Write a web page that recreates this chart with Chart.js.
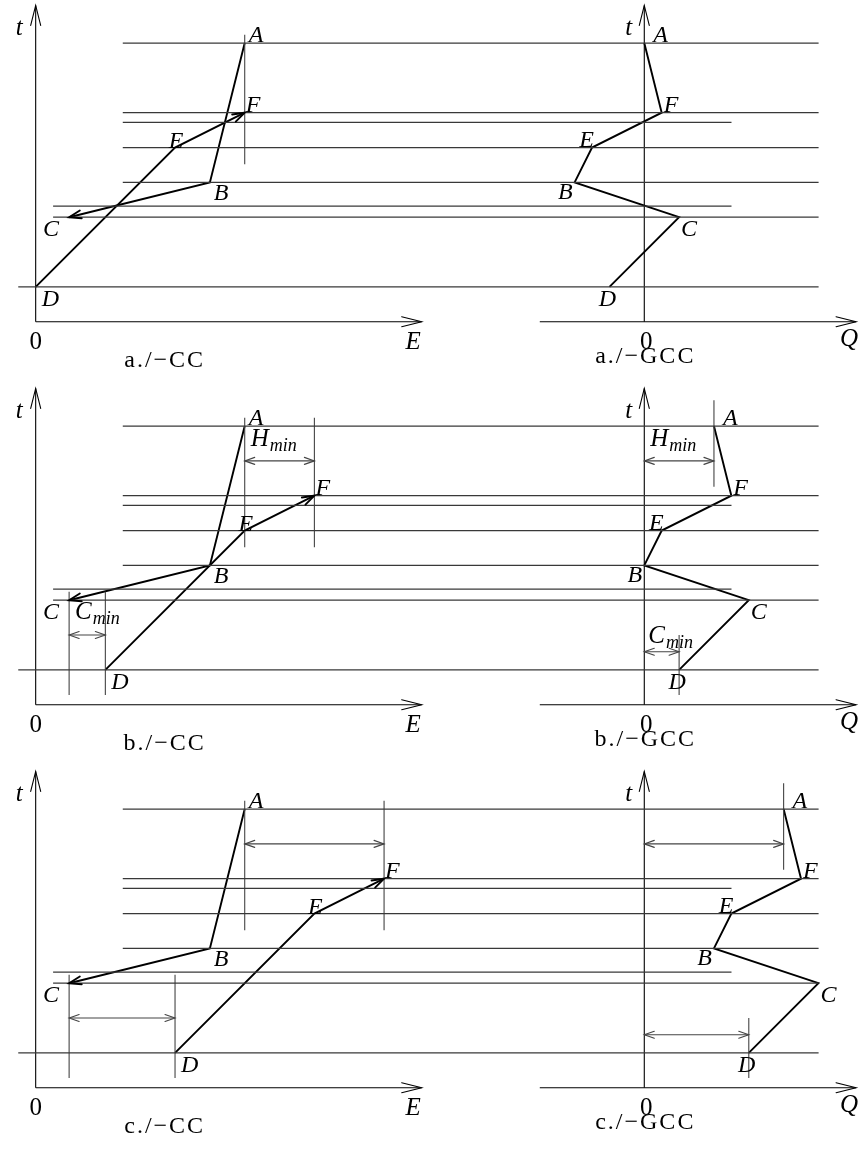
<!DOCTYPE html>
<html>
<head>
<meta charset="utf-8">
<script src="https://cdn.jsdelivr.net/npm/chart.js@4.4.1/dist/chart.umd.min.js"></script>
<style>
  html, body { margin: 0; padding: 0; background: #fff; }
  .row { position: absolute; left: 0; width: 859px; height: 383px; }
  canvas { display: block; }
</style>
</head>
<body>
<div class="row" style="top:0"><canvas id="row-a" width="859" height="383"></canvas></div>
<div class="row" style="top:383px"><canvas id="row-b" width="859" height="383"></canvas></div>
<div class="row" style="top:766px"><canvas id="row-c" width="859" height="383"></canvas></div>
<script>
// shifted temperature intervals, shared by the three cases
const tLevels = [200, 150, 143, 125, 100, 83, 75, 25];
const levelStartE = [62.5, 62.5, 62.5, 62.5, 62.5, 12.5, 12.5, -12.5];
const levelEndQ = [125, 125, 62.5, 125, 125, 62.5, 125, 125];

// hot composite A -> B -> C (same in every case)
const hotNames = ['A', 'B', 'C'];
const hotT = [200, 100, 75];
const hotE = [150, 125, 24];

// cold composite D -> E -> F, slid right case by case
const coldNames = ['D', 'E', 'F'];
const coldT = [25, 125, 150];
const coldE_a = [0, 100, 150];
const coldE_b = [50, 150, 200];
const coldE_c = [100, 200, 250];

// grand composite curve
const gccNames = ['A', 'F', 'E', 'B', 'C', 'D'];
const gccT = [200, 150, 125, 100, 75, 25];
const gccQ_a = [0, 12.5, -37.5, -50, 25, -25];
const gccQ_b = [50, 62.5, 12.5, 0, 75, 25];
const gccQ_c = [100, 112.5, 62.5, 50, 125, 75];

// guide lines for the Hmin / Cmin spans
const upperGuideE_a = [150];
const lowerGuideE_a = [];
const upperGuideE_b = [150, 200];
const lowerGuideE_b = [24, 50];
const upperGuideE_c = [150, 250];
const lowerGuideE_c = [24, 100];
const gccGuideQ_a = [];
const gccGuideQ_b = [50, 25];
const gccGuideQ_c = [100, 75];
const guideUpperT = [113, 206];
const guideLowerT = [7, 81];
const gccGuideUpperT = [156.5, 218.5];
const gccGuideLowerT = [7, 50];
const spanT = [175, 50];
const gccSpanT = [175, 38];

// axes
const tAxisTop = 227;
const eAxisEnd = 277;
const qAxis = [-75, 152];

const captionsCC = ['a./\u2212CC', 'b./\u2212CC', 'c./\u2212CC'];
const captionsGCC = ['a./\u2212GCC', 'b./\u2212GCC', 'c./\u2212GCC'];

// scale windows: both x scales share one px/unit so the interval lines can cross panels
const eRange = [-25.6, 590.8];
const qRange = [-462.4, 154.1];
const tRange = [-44, 230.9];
const eOfQ = q => q - qRange[0] + eRange[0];

const ITALIC = 'italic 24px "Liberation Serif"';
const ITALIC_BIG = 'italic 25px "Liberation Serif"';
const ROMAN = '25px "Liberation Serif"';
const CAPTION = '24px "Liberation Serif"';
const SUB = 'italic 18px "Liberation Serif"';

const INK = { borderColor: '#000', borderWidth: 1.9 };
const RULE = { borderColor: '#383838', borderWidth: 1.2 };
const GUIDE = { borderColor: '#444', borderWidth: 1.1 };
const AXIS = { borderColor: '#000', borderWidth: 1.1 };
const AXIS_HEAD = { end: true, len: 20, half: 5 };
const CURVE_HEAD = { end: true, len: 12, half: 4 };
const SPAN_HEAD = { start: true, end: true, len: 10, half: 3.5 };

// label offsets (px) for the lettered points
const ccPlace = { A: [4, -1, 'left'], F: [1, -1, 'left'], E: [1, 0, 'center'], B: [4, 18, 'left'], C: [-10, 19, 'right'], D: [6, 19, 'left'] };
const gccPlace = { A: [9, -1, 'left'], F: [2, -1, 'left'], E: [2, -1, 'right'], B: [-2, 17, 'right'], C: [2, 19, 'left'], D: [-2, 19, 'center'] };

function seg(axis, pts, style, head) {
  const ds = Object.assign({
    xAxisID: axis, yAxisID: 'y', data: pts, showLine: true,
    pointRadius: 0, pointHoverRadius: 0, fill: false, tension: 0,
    borderCapStyle: 'butt', borderJoinStyle: 'miter'
  }, style);
  if (head) ds.head = head;
  return ds;
}

const zip = (xs, ts) => xs.map((x, i) => ({ x, y: ts[i] }));

function drawHead(ctx, tip, from, h) {
  const a = Math.atan2(tip.y - from.y, tip.x - from.x);
  const s = Math.atan2(h.half, h.len);
  const r = Math.hypot(h.len, h.half);
  ctx.beginPath();
  ctx.moveTo(tip.x - r * Math.cos(a - s), tip.y - r * Math.sin(a - s));
  ctx.lineTo(tip.x, tip.y);
  ctx.lineTo(tip.x - r * Math.cos(a + s), tip.y - r * Math.sin(a + s));
  ctx.stroke();
}

function sketchPlugin(labels) {
  return {
    id: 'sketch',
    afterDatasetsDraw(chart) {
      const ctx = chart.ctx;
      ctx.save();
      ctx.lineCap = 'round';
      chart.data.datasets.forEach((ds, i) => {
        if (!ds.head) return;
        const pts = chart.getDatasetMeta(i).data;
        const n = pts.length;
        ctx.strokeStyle = ds.borderColor;
        ctx.lineWidth = ds.borderWidth;
        if (ds.head.end) drawHead(ctx, pts[n - 1], pts[n - 2], ds.head);
        if (ds.head.start) drawHead(ctx, pts[0], pts[1], ds.head);
      });
      ctx.fillStyle = '#000';
      ctx.textBaseline = 'alphabetic';
      labels.forEach(l => {
        const x = chart.scales[l.axis].getPixelForValue(l.x) + l.dx;
        const y = chart.scales.y.getPixelForValue(l.t) + l.dy;
        ctx.font = l.font;
        ctx.textAlign = l.align;
        ctx.letterSpacing = l.spacing || '0px';
        ctx.fillText(l.text, x, y);
        if (l.sub) {
          const w = ctx.measureText(l.text).width;
          ctx.font = SUB;
          ctx.textAlign = 'left';
          ctx.fillText(l.sub, x + w + 1, y + 5);
        }
      });
      ctx.restore();
    }
  };
}

function pointLabels(names, axis, xs, ts, place) {
  return names.map((n, i) => {
    const [dx, dy, align] = place[n];
    return { text: n, axis, x: xs[i], t: ts[i], dx, dy, align, font: ITALIC };
  });
}

function buildCase(id, k, coldE, gccQ, upperE, lowerE, gccGuides, withNames) {
  const ds = [];

  tLevels.forEach((t, i) => {
    ds.push(seg('xE', [{ x: levelStartE[i], y: t }, { x: eOfQ(levelEndQ[i]), y: t }], RULE));
  });

  upperE.forEach(e => ds.push(seg('xE', [{ x: e, y: guideUpperT[0] }, { x: e, y: guideUpperT[1] }], GUIDE)));
  lowerE.forEach(e => ds.push(seg('xE', [{ x: e, y: guideLowerT[0] }, { x: e, y: guideLowerT[1] }], GUIDE)));
  if (upperE.length === 2) {
    ds.push(seg('xE', [{ x: upperE[0], y: spanT[0] }, { x: upperE[1], y: spanT[0] }], GUIDE, SPAN_HEAD));
  }
  if (lowerE.length === 2) {
    ds.push(seg('xE', [{ x: lowerE[0], y: spanT[1] }, { x: lowerE[1], y: spanT[1] }], GUIDE, SPAN_HEAD));
  }
  if (gccGuides.length === 2) {
    const [qu, ql] = gccGuides;
    ds.push(seg('xQ', [{ x: qu, y: gccGuideUpperT[0] }, { x: qu, y: gccGuideUpperT[1] }], GUIDE));
    ds.push(seg('xQ', [{ x: ql, y: gccGuideLowerT[0] }, { x: ql, y: gccGuideLowerT[1] }], GUIDE));
    ds.push(seg('xQ', [{ x: 0, y: gccSpanT[0] }, { x: qu, y: gccSpanT[0] }], GUIDE, SPAN_HEAD));
    ds.push(seg('xQ', [{ x: 0, y: gccSpanT[1] }, { x: ql, y: gccSpanT[1] }], GUIDE, SPAN_HEAD));
  }

  // axes
  ds.push(seg('xE', [{ x: 0, y: 0 }, { x: 0, y: tAxisTop }], AXIS, AXIS_HEAD));
  ds.push(seg('xE', [{ x: 0, y: 0 }, { x: eAxisEnd, y: 0 }], AXIS, AXIS_HEAD));
  ds.push(seg('xQ', [{ x: 0, y: 0 }, { x: 0, y: tAxisTop }], AXIS, AXIS_HEAD));
  ds.push(seg('xQ', [{ x: qAxis[0], y: 0 }, { x: qAxis[1], y: 0 }], AXIS, AXIS_HEAD));

  // composite curves
  ds.push(seg('xE', zip(hotE, hotT), INK, CURVE_HEAD));
  ds.push(seg('xE', zip(coldE, coldT), INK, CURVE_HEAD));
  ds.push(seg('xQ', zip(gccQ, gccT), INK));

  const labels = [
    ...pointLabels(hotNames, 'xE', hotE, hotT, ccPlace),
    ...pointLabels(coldNames, 'xE', coldE, coldT, ccPlace),
    ...pointLabels(gccNames, 'xQ', gccQ, gccT, gccPlace),
    { text: 't', axis: 'xE', x: 0, t: tAxisTop, dx: -13, dy: 30, align: 'right', font: ITALIC_BIG },
    { text: 't', axis: 'xQ', x: 0, t: tAxisTop, dx: -12, dy: 30, align: 'right', font: ITALIC_BIG },
    { text: '0', axis: 'xE', x: 0, t: 0, dx: 0, dy: 27, align: 'center', font: ROMAN },
    { text: '0', axis: 'xQ', x: 0, t: 0, dx: 2, dy: 27, align: 'center', font: ROMAN },
    { text: 'E', axis: 'xE', x: eAxisEnd, t: 0, dx: -1, dy: 27, align: 'right', font: ITALIC_BIG },
    { text: 'Q', axis: 'xQ', x: qAxis[1], t: 0, dx: 2, dy: 24, align: 'right', font: ITALIC_BIG },
    { text: captionsCC[k], axis: 'xE', x: 0, t: 0, dx: 129, dy: 45, align: 'center', font: CAPTION, spacing: '2px' },
    { text: captionsGCC[k], axis: 'xQ', x: 0, t: 0, dx: 1, dy: 41, align: 'center', font: CAPTION, spacing: '2px' }
  ];
  if (withNames) {
    labels.push(
      { text: 'H', sub: 'min', axis: 'xE', x: upperE[0], t: spanT[0], dx: 6, dy: -15, align: 'left', font: ITALIC_BIG },
      { text: 'C', sub: 'min', axis: 'xE', x: lowerE[0], t: spanT[1], dx: 6, dy: -16, align: 'left', font: ITALIC_BIG },
      { text: 'H', sub: 'min', axis: 'xQ', x: 0, t: gccSpanT[0], dx: 6, dy: -15, align: 'left', font: ITALIC_BIG },
      { text: 'C', sub: 'min', axis: 'xQ', x: 0, t: gccSpanT[1], dx: 4, dy: -9, align: 'left', font: ITALIC_BIG }
    );
  }

  return new Chart(document.getElementById(id), {
    type: 'scatter',
    data: { datasets: ds },
    options: {
      responsive: false, animation: false, events: [],
      layout: { padding: 0 },
      plugins: { legend: { display: false }, tooltip: { enabled: false } },
      scales: {
        xE: { type: 'linear', axis: 'x', min: eRange[0], max: eRange[1], display: false },
        xQ: { type: 'linear', axis: 'x', min: qRange[0], max: qRange[1], display: false },
        y: { type: 'linear', min: tRange[0], max: tRange[1], display: false }
      }
    },
    plugins: [sketchPlugin(labels)]
  });
}

buildCase('row-a', 0, coldE_a, gccQ_a, upperGuideE_a, lowerGuideE_a, gccGuideQ_a, false);
buildCase('row-b', 1, coldE_b, gccQ_b, upperGuideE_b, lowerGuideE_b, gccGuideQ_b, true);
buildCase('row-c', 2, coldE_c, gccQ_c, upperGuideE_c, lowerGuideE_c, gccGuideQ_c, false);
</script>
</body>
</html>
